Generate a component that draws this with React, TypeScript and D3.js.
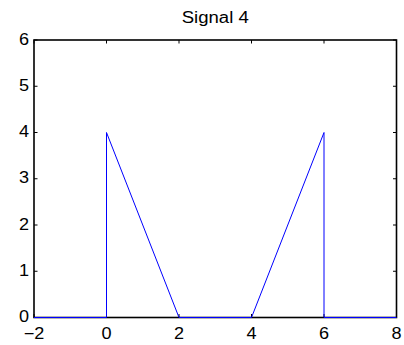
import React, { useEffect, useRef } from "react";
import * as d3 from "d3";

// signal samples (x, y)
const xs = [-2, 0, 0, 2, 4, 6, 6, 8];
const ys = [0, 0, 4, 0, 0, 4, 0, 0];
const xTicks = [-2, 0, 2, 4, 6, 8];
const yTicks = [0, 1, 2, 3, 4, 5, 6];
const title = "Signal 4";

const App = () => {
  const width = 404;
  const height = 345;
  const marginTop = 40;
  const marginRight = 7.5;
  const marginBottom = 27.5;
  const marginLeft = 34;
  const svgRef = useRef<SVGSVGElement>(null);

  useEffect(() => {
    if (!svgRef.current) return;
    const svg = d3.select(svgRef.current);
    svg.selectAll("*").remove();

    const x = d3.scaleLinear().domain([-2, 8]).range([marginLeft, width - marginRight]);
    const y = d3.scaleLinear().domain([0, 6]).range([height - marginBottom, marginTop]);
    const font = "Liberation Sans, Arial, sans-serif";
    const fontSize = "16px";
    const stretch = 1.13;

    const data = xs.map((v, i) => ({ x: v, y: ys[i] }));

    // axes box
    svg
      .append("rect")
      .attr("x", x(-2))
      .attr("y", y(6))
      .attr("width", x(8) - x(-2))
      .attr("height", y(0) - y(6))
      .attr("fill", "white")
      .attr("stroke", "black")
      .attr("stroke-width", 1.6);

    const tickLen = 3.5;
    // x ticks point inward on bottom and top
    xTicks.forEach((t) => {
      svg.append("line").attr("x1", x(t)).attr("x2", x(t)).attr("y1", y(0)).attr("y2", y(0) - tickLen).attr("stroke", "black");
      svg.append("line").attr("x1", x(t)).attr("x2", x(t)).attr("y1", y(6)).attr("y2", y(6) + tickLen).attr("stroke", "black");
      svg
        .append("text")
        .attr("transform", `translate(${x(t)},${y(0) + 21.5}) scale(${stretch},1)`)
        .attr("text-anchor", "middle")
        .style("font-family", font)
        .style("font-size", fontSize)
        .text(t < 0 ? `\u2212${-t}` : `${t}`);
    });

    yTicks.forEach((t) => {
      svg.append("line").attr("x1", x(-2)).attr("x2", x(-2) + tickLen).attr("y1", y(t)).attr("y2", y(t)).attr("stroke", "black");
      svg.append("line").attr("x1", x(8)).attr("x2", x(8) - tickLen).attr("y1", y(t)).attr("y2", y(t)).attr("stroke", "black");
      svg
        .append("text")
        .attr("transform", `translate(${x(-2) - 5},${y(t) + 4.5}) scale(${stretch},1)`)
        .attr("text-anchor", "end")
        .style("font-family", font)
        .style("font-size", fontSize)
        .text(`${t}`);
    });

    const line = d3
      .line<{ x: number; y: number }>()
      .x((d) => x(d.x))
      .y((d) => y(d.y));

    svg
      .append("path")
      .datum(data)
      .attr("fill", "none")
      .attr("stroke", "blue")
      .attr("stroke-width", 1)
      .attr("d", line);

    svg
      .append("text")
      .attr("transform", `translate(${(x(-2) + x(8)) / 2},${y(6) - 17.3}) scale(1.16,1)`)
      .attr("text-anchor", "middle")
      .style("font-family", font)
      .style("font-size", "16px")
      .text(title);
  }, []);

  return (
    <svg
      ref={svgRef}
      width={width}
      height={height}
      style={{ position: "absolute", left: 0, top: 0, background: "white" }}
    ></svg>
  );
};

export default App;
